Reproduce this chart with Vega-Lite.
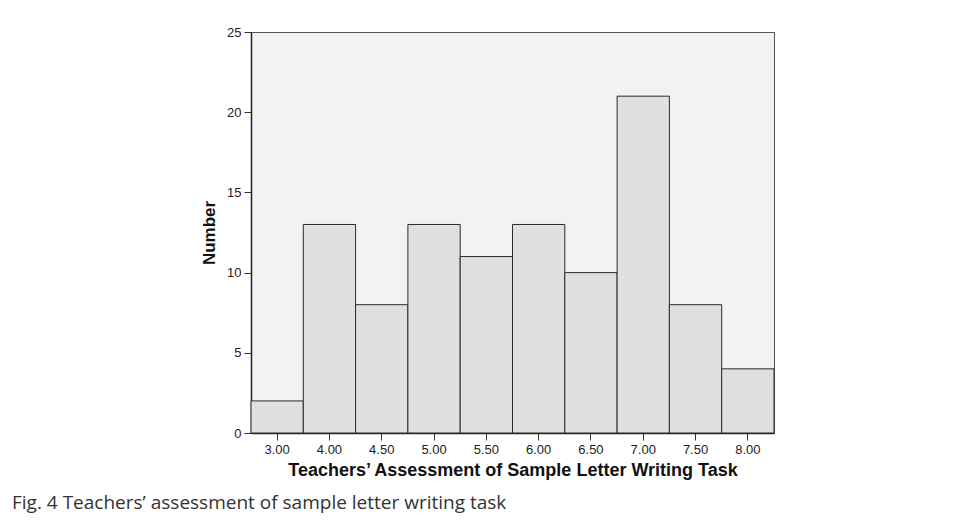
{
  "$schema": "https://vega.github.io/schema/vega-lite/v6.json",
  "autosize": {"type": "none"},
  "width": 523,
  "height": 401,
  "padding": {"left": 251, "top": 32, "right": 181, "bottom": 90},
  "background": "white",
  "data": {"values": [
    {"score": "3.00", "count": 2},
    {"score": "4.00", "count": 13},
    {"score": "4.50", "count": 8},
    {"score": "5.00", "count": 13},
    {"score": "5.50", "count": 11},
    {"score": "6.00", "count": 13},
    {"score": "6.50", "count": 10},
    {"score": "7.00", "count": 21},
    {"score": "7.50", "count": 8},
    {"score": "8.00", "count": 4}
  ]},
  "title": {
    "text": "Fig. 4 Teachers’ assessment of sample letter writing task",
    "orient": "bottom",
    "anchor": "start",
    "frame": "group",
    "dx": -239,
    "offset": 15,
    "font": "Open Sans",
    "fontSize": 19,
    "fontWeight": "normal",
    "color": "#333"
  },
  "mark": {"type": "bar", "fill": "#e0e0e0", "stroke": "#2a2a2a", "strokeWidth": 1},
  "encoding": {
    "x": {
      "field": "score",
      "type": "ordinal",
      "sort": null,
      "scale": {"paddingInner": 0, "paddingOuter": 0},
      "axis": {
        "title": "Teachers’ Assessment of Sample Letter Writing Task",
        "labelAngle": 0,
        "labelFont": "Liberation Sans",
        "labelFontSize": 13,
        "labelColor": "#222",
        "labelPadding": 3,
        "titleFont": "Liberation Sans",
        "titleFontSize": 18,
        "titleFontWeight": "bold",
        "titleColor": "#111",
        "titlePadding": 5,
        "tickColor": "#333",
        "tickSize": 7,
        "domainColor": "#222",
        "domainWidth": 1.5
      }
    },
    "y": {
      "field": "count",
      "type": "quantitative",
      "scale": {"domain": [0, 25], "nice": false},
      "axis": {
        "title": "Number",
        "values": [0, 5, 10, 15, 20, 25],
        "grid": false,
        "labelFont": "Liberation Sans",
        "labelFontSize": 13,
        "labelColor": "#222",
        "labelPadding": 3,
        "titleFont": "Liberation Sans",
        "titleFontSize": 17,
        "titleFontWeight": "bold",
        "titleColor": "#111",
        "titlePadding": 8,
        "tickColor": "#333",
        "tickSize": 7,
        "domainColor": "#222",
        "domainWidth": 1.5
      }
    }
  },
  "config": {
    "view": {"fill": "#f2f2f2", "stroke": "#555", "strokeWidth": 1}
  }
}
